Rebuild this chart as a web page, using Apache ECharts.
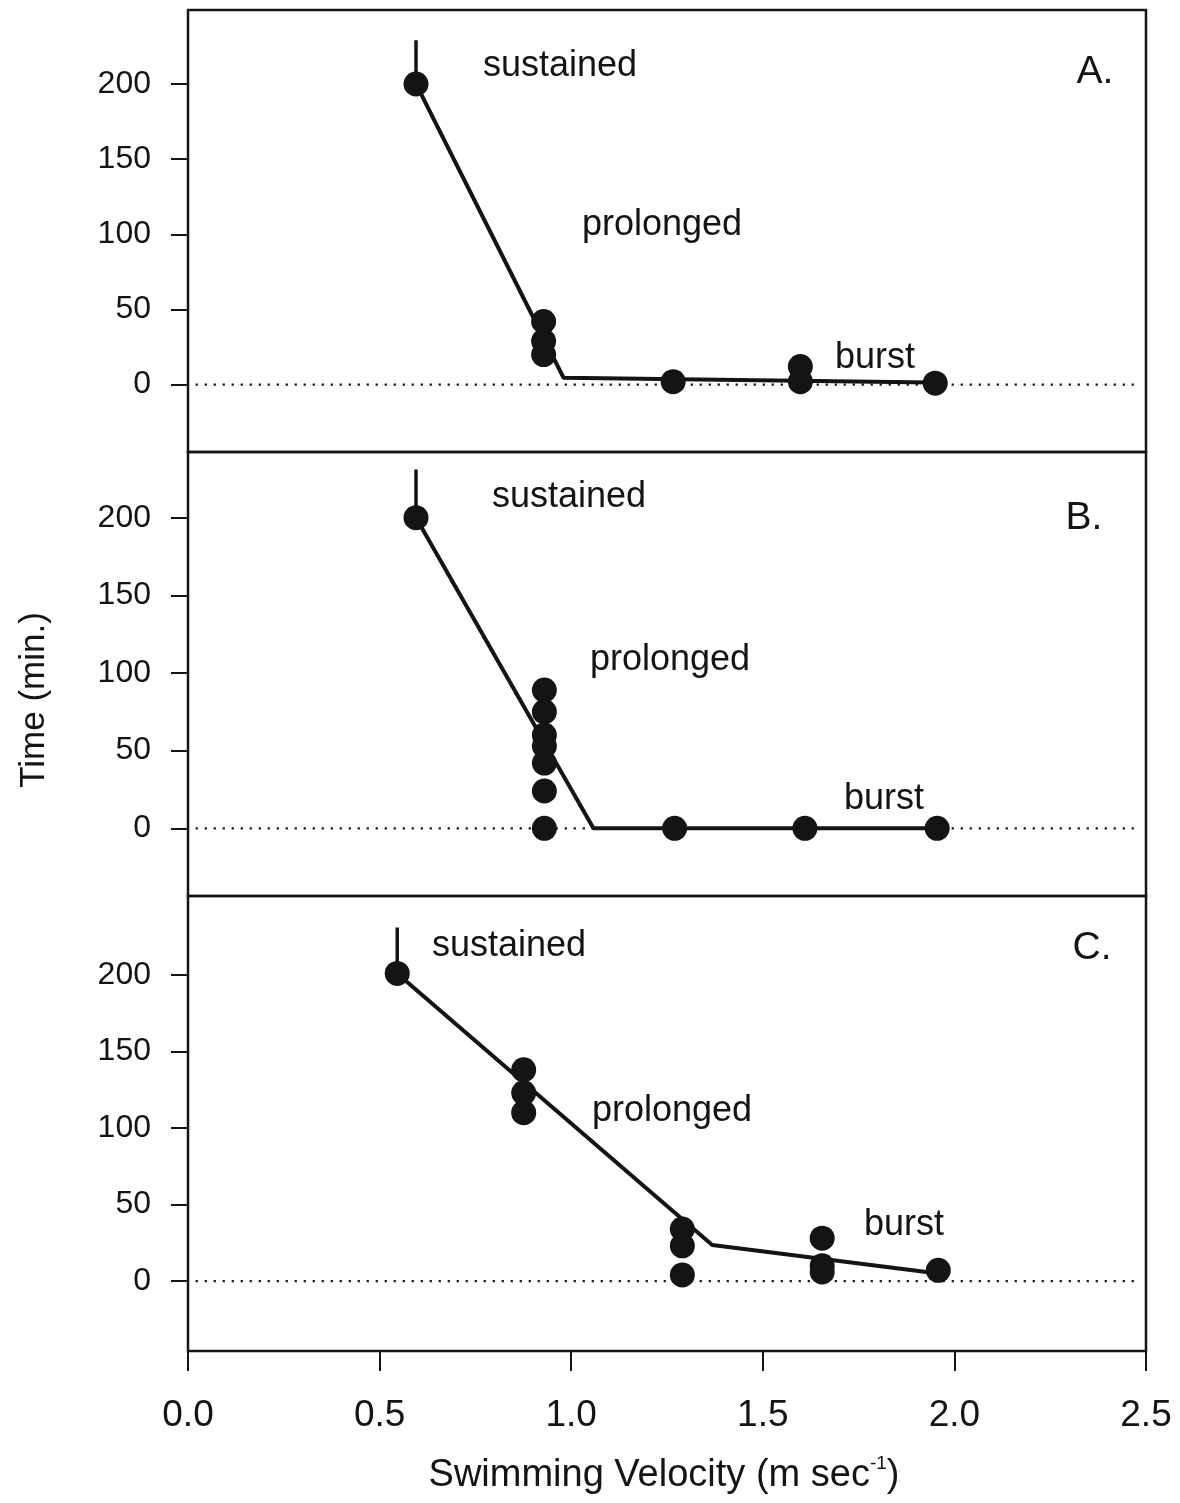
<!DOCTYPE html>
<html><head><meta charset="utf-8">
<script src="https://cdn.jsdelivr.net/npm/echarts@6/dist/echarts.min.js"></script>
<style>html,body{margin:0;padding:0;background:#fff}#c{width:1180px;height:1503px}</style>
</head><body><div id="c"></div>
<script>
// ---- data ----
const xTickValues = [0, 0.5, 1.0, 1.5, 2.0, 2.5];
const yTickValues = [0, 50, 100, 150, 200];
const panelLabels = ['A.', 'B.', 'C.'];
const zoneLabels = ['sustained', 'prolonged', 'burst'];
const xTitle = 'Swimming Velocity (m sec';
const xTitleSup = '-1';
const yTitle = 'Time (min.)';

// Panel A
const aPointX = [0.595, 0.928, 0.928, 0.928, 1.266, 1.598, 1.598, 1.950];
const aPointY = [200, 42, 29, 20, 2, 12, 2, 1];
const aFitX = [0.595, 0.980, 1.940];
const aFitY = [200, 4.6, 1.5];
const aErrX = [0.595, 0.595];
const aErrY = [200, 229];

// Panel B
const bPointX = [0.595, 0.930, 0.930, 0.930, 0.930, 0.930, 0.930, 0.930, 1.270, 1.610, 1.955];
const bPointY = [200, 89, 75, 60, 53, 42, 24, 0, 0, 0, 0];
const bFitX = [0.595, 1.058, 1.955];
const bFitY = [200, 0, 0];
const bErrX = [0.595, 0.595];
const bErrY = [200, 231];

// Panel C
const cPointX = [0.546, 0.876, 0.876, 0.876, 1.290, 1.290, 1.290, 1.655, 1.655, 1.655, 1.958];
const cPointY = [201, 138, 123, 110, 34, 23, 4, 28, 10, 6, 7];
const cFitX = [0.546, 1.368, 1.958];
const cFitY = [201, 23.5, 5];
const cErrX = [0.546, 0.546];
const cErrY = [201, 231];

const zeroLineX = [0.02, 2.48];
const zeroLineY = [0, 0];

// ---- chart ----
const FONT = '"Liberation Sans", Arial, Helvetica, sans-serif';
const INK = '#141414';
const zip = (xs, ys) => xs.map((x, i) => [x, ys[i]]);

const panels = [
  {pts: [aPointX, aPointY], fit: [aFitX, aFitY], err: [aErrX, aErrY], top: 10, height: 442, min: -44.8, max: 249.2},
  {pts: [bPointX, bPointY], fit: [bFitX, bFitY], err: [bErrX, bErrY], top: 452, height: 444, min: -43.6, max: 242.3},
  {pts: [cPointX, cPointY], fit: [cFitX, cFitY], err: [cErrX, cErrY], top: 896, height: 455, min: -45.7, max: 251.6}
];

const grid = [], xAxis = [], yAxis = [], series = [];
panels.forEach((p, i) => {
  grid.push({left: 188, right: 34, top: p.top, height: p.height, show: true,
    borderColor: INK, borderWidth: 2.5, backgroundColor: 'transparent', containLabel: false});
  const last = i === panels.length - 1;
  xAxis.push({
    gridIndex: i, type: 'value', min: 0, max: 2.5, interval: 0.5, position: 'bottom',
    axisLine: {show: false, onZero: false}, splitLine: {show: false},
    axisTick: {show: last, length: 20, customValues: xTickValues, lineStyle: {color: INK, width: 2}},
    axisLabel: {show: last, margin: 46, fontSize: 37, fontFamily: FONT, color: INK,
      customValues: xTickValues, formatter: v => Number(v).toFixed(1)}
  });
  yAxis.push({
    gridIndex: i, type: 'value', min: p.min, max: p.max,
    axisLine: {show: false, onZero: false}, splitLine: {show: false},
    axisTick: {show: true, length: 17, customValues: yTickValues, lineStyle: {color: INK, width: 2}},
    axisLabel: {margin: 37, fontSize: 32, fontFamily: FONT, color: INK, customValues: yTickValues}
  });
  series.push({type: 'line', xAxisIndex: i, yAxisIndex: i, data: zip(zeroLineX, zeroLineY),
    symbol: 'none', silent: true, lineStyle: {color: INK, width: 2.2, type: [2.2, 6.8]}, z: 1});
  series.push({type: 'line', xAxisIndex: i, yAxisIndex: i, data: zip(p.fit[0], p.fit[1]),
    symbol: 'none', lineStyle: {color: INK, width: 4}, z: 2});
  series.push({type: 'line', xAxisIndex: i, yAxisIndex: i, data: zip(p.err[0], p.err[1]),
    symbol: 'none', lineStyle: {color: INK, width: 3.5}, z: 2});
  series.push({type: 'scatter', xAxisIndex: i, yAxisIndex: i, data: zip(p.pts[0], p.pts[1]),
    symbol: 'circle', symbolSize: 25, itemStyle: {color: INK, opacity: 1}, z: 3});
});

function txt(text, x, y, size, extra) {
  return Object.assign({type: 'text', x: x, y: y, silent: true, z: 10,
    style: {text: text, fill: INK, font: size + 'px ' + FONT, textAlign: 'center', textVerticalAlign: 'middle'}}, extra || {});
}

const graphic = [
  txt(zoneLabels[0], 560, 66, 36), txt(zoneLabels[1], 662, 225, 36), txt(zoneLabels[2], 875, 358, 36),
  txt(panelLabels[0], 1095, 72, 39),
  txt(zoneLabels[0], 569, 497, 36), txt(zoneLabels[1], 670, 660, 36), txt(zoneLabels[2], 884, 799, 36),
  txt(panelLabels[1], 1084, 518, 39),
  txt(zoneLabels[0], 509, 946, 36), txt(zoneLabels[1], 672, 1111, 36), txt(zoneLabels[2], 904, 1225, 36),
  txt(panelLabels[2], 1092, 948, 39),
  {type: 'text', x: 34, y: 700, rotation: Math.PI / 2, silent: true,
    style: {text: yTitle, fill: INK, font: '35px ' + FONT, textAlign: 'center', textVerticalAlign: 'middle'}},
  {type: 'text', x: 664, y: 1476, silent: true,
    style: {text: xTitle + '{sup|' + xTitleSup + '})', fill: INK, font: '38px ' + FONT,
      textAlign: 'center', textVerticalAlign: 'middle',
      rich: {sup: {fontSize: 19, fontFamily: FONT, fill: INK, verticalAlign: 'top', lineHeight: 44}}}}
];

const chart = echarts.init(document.getElementById('c'), null, {renderer: 'canvas'});
chart.setOption({animation: false, backgroundColor: '#fff', grid, xAxis, yAxis, series, graphic});
</script>
</body></html>
